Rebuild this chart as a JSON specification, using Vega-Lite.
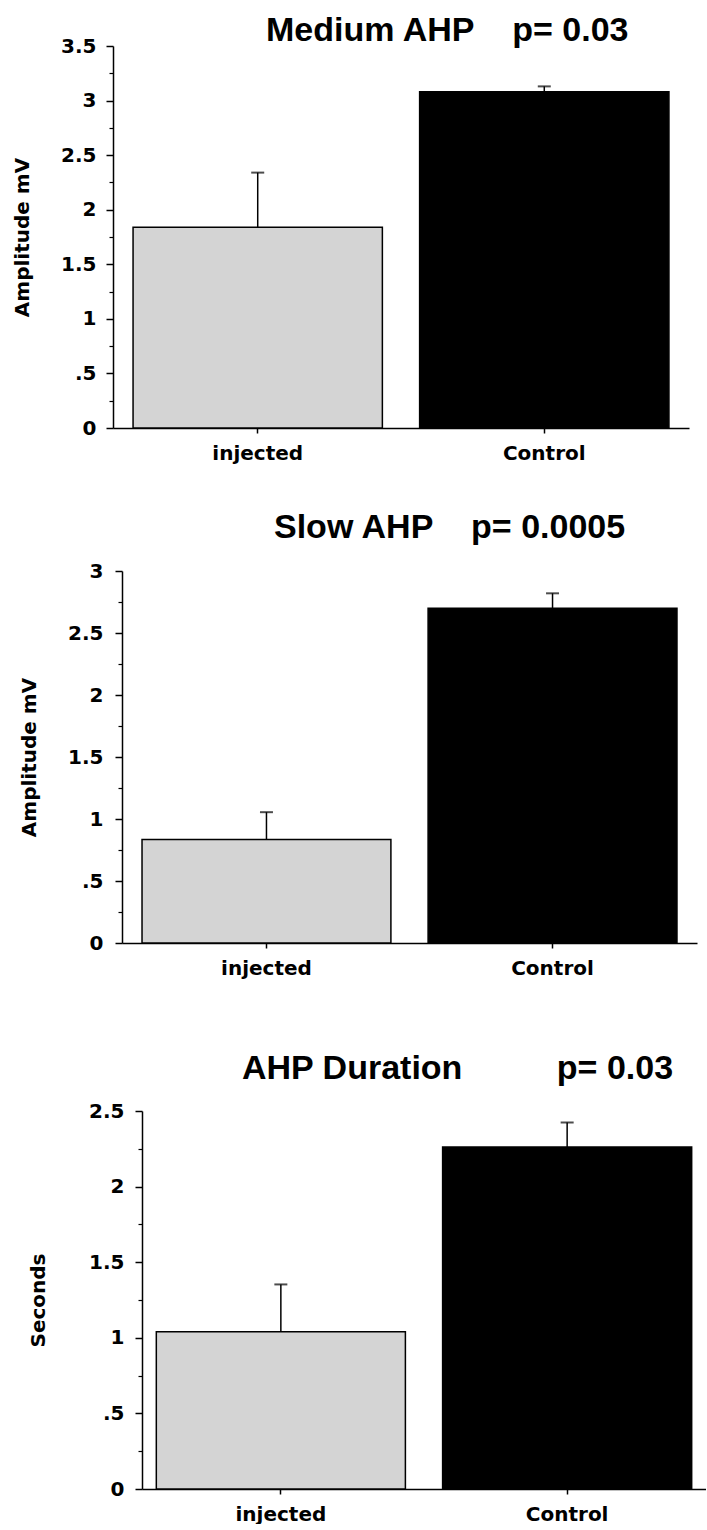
{
  "$schema": "https://vega.github.io/schema/vega-lite/v6.json",
  "padding": {"left": 0, "top": 14, "right": 0, "bottom": 0},
  "background": "white",
  "spacing": 74,
  "config": {
    "view": {"stroke": null},
    "axis": {
      "domainColor": "black", "domainWidth": 1.5, "tickColor": "black", "tickWidth": 1.5,
      "labelFont": "DejaVu Sans", "labelFontWeight": "bold", "labelFontSize": 20, "labelColor": "black",
      "titleFont": "DejaVu Sans", "titleFontWeight": "bold", "titleFontSize": 20, "titleColor": "black",
      "grid": false
    },
    "title": {"font": "Liberation Sans", "fontSize": 34, "fontWeight": "bold", "color": "black", "anchor": "start", "frame": "group", "baseline": "alphabetic"}
  },
  "datasets": {
    "medium": [
      {"group": "injected", "mean": 1.84, "upper": 2.34},
      {"group": "Control", "mean": 3.08, "upper": 3.13}
    ],
    "slow": [
      {"group": "injected", "mean": 0.835, "upper": 1.055},
      {"group": "Control", "mean": 2.7, "upper": 2.82}
    ],
    "duration": [
      {"group": "injected", "mean": 1.04, "upper": 1.353},
      {"group": "Control", "mean": 2.262, "upper": 2.424}
    ]
  },
  "vconcat": [
    {
      "spacing": 48,
      "vconcat": [
        {
          "spacing": 0,
          "hconcat": [
            {"width": 12, "height": 382, "data": {"values": [{"a": 0}]}, "mark": {"type": "point", "opacity": 0}, "encoding": {}},
            {
              "width": 576, "height": 382,
              "title": {"text": "Medium AHP\u00a0\u00a0\u00a0\u00a0p= 0.03", "dx": 153, "offset": -12},
              "data": {"name": "medium"},
              "encoding": {
                "x": {"field": "group", "type": "nominal", "sort": ["injected", "Control"],
                  "scale": {"paddingInner": 0.13, "paddingOuter": 0.07},
                  "axis": {"title": null, "labelAngle": 0, "tickSize": 5, "labelPadding": 10}}
              },
              "layer": [
                {
                  "mark": {"type": "bar", "stroke": "black", "strokeWidth": 1.5},
                  "encoding": {
                    "y": {"field": "mean", "type": "quantitative", "scale": {"domain": [0, 3.5], "nice": false},
                      "axis": {"title": "Amplitude mV", "values": [0, 0.5, 1, 1.5, 2, 2.5, 3, 3.5], "format": "~g",
                        "labelExpr": "datum.value == 0.5 ? '.5' : datum.label", "tickSize": 7, "labelPadding": 10, "titlePadding": 28}},
                    "fill": {"field": "group", "type": "nominal", "scale": {"domain": ["injected", "Control"], "range": ["#d4d4d4", "#000000"]}, "legend": null}
                  }
                },
                {
                  "mark": {"type": "rule", "strokeWidth": 1.5, "color": "black"},
                  "encoding": {"y": {"field": "mean", "type": "quantitative", "axis": null}, "y2": {"field": "upper"}}
                },
                {
                  "mark": {"type": "tick", "thickness": 2, "size": 13, "color": "black"},
                  "encoding": {"y": {"field": "upper", "type": "quantitative",
                    "axis": {"orient": "left", "title": null, "labels": false, "domain": false, "tickSize": 4, "tickWidth": 1.2,
                      "values": [0.25, 0.75, 1.25, 1.75, 2.25, 2.75, 3.25]}}}
                }
              ],
              "resolve": {"axis": {"y": "independent"}}
            }
          ]
        },
        {
          "spacing": 0,
          "hconcat": [
            {"width": 19, "height": 372, "data": {"values": [{"a": 0}]}, "mark": {"type": "point", "opacity": 0}, "encoding": {}},
            {
              "width": 575, "height": 372,
              "title": {"text": "Slow AHP\u00a0\u00a0\u00a0\u00a0p= 0.0005", "dx": 152, "offset": 16},
              "data": {"name": "slow"},
              "encoding": {
                "x": {"field": "group", "type": "nominal", "sort": ["injected", "Control"],
                  "scale": {"paddingInner": 0.13, "paddingOuter": 0.07},
                  "axis": {"title": null, "labelAngle": 0, "tickSize": 5, "labelPadding": 10}}
              },
              "layer": [
                {
                  "mark": {"type": "bar", "stroke": "black", "strokeWidth": 1.5},
                  "encoding": {
                    "y": {"field": "mean", "type": "quantitative", "scale": {"domain": [0, 3], "nice": false},
                      "axis": {"title": "Amplitude mV", "values": [0, 0.5, 1, 1.5, 2, 2.5, 3], "format": "~g",
                        "labelExpr": "datum.value == 0.5 ? '.5' : datum.label", "tickSize": 7, "labelPadding": 12, "titlePadding": 28}},
                    "fill": {"field": "group", "type": "nominal", "scale": {"domain": ["injected", "Control"], "range": ["#d4d4d4", "#000000"]}, "legend": null}
                  }
                },
                {
                  "mark": {"type": "rule", "strokeWidth": 1.5, "color": "black"},
                  "encoding": {"y": {"field": "mean", "type": "quantitative", "axis": null}, "y2": {"field": "upper"}}
                },
                {
                  "mark": {"type": "tick", "thickness": 2, "size": 13, "color": "black"},
                  "encoding": {"y": {"field": "upper", "type": "quantitative",
                    "axis": {"orient": "left", "title": null, "labels": false, "domain": false, "tickSize": 4, "tickWidth": 1.2,
                      "values": [0.25, 0.75, 1.25, 1.75, 2.25, 2.75]}}}
                }
              ],
              "resolve": {"axis": {"y": "independent"}}
            }
          ]
        }
      ]
    },
    {
      "spacing": 0,
      "hconcat": [
        {"width": 28, "height": 378, "data": {"values": [{"a": 0}]}, "mark": {"type": "point", "opacity": 0}, "encoding": {}},
        {
          "width": 564, "height": 378,
          "title": {"text": "AHP Duration\u00a0\u00a0\u00a0\u00a0\u00a0\u00a0\u00a0\u00a0\u00a0\u00a0p= 0.03", "dx": 100, "offset": 15},
          "data": {"name": "duration"},
          "encoding": {
            "x": {"field": "group", "type": "nominal", "sort": ["injected", "Control"],
              "scale": {"paddingInner": 0.13, "paddingOuter": 0.05},
              "axis": {"title": null, "labelAngle": 0, "tickSize": 5, "labelPadding": 10}}
          },
          "layer": [
            {
              "mark": {"type": "bar", "stroke": "black", "strokeWidth": 1.5},
              "encoding": {
                "y": {"field": "mean", "type": "quantitative", "scale": {"domain": [0, 2.5], "nice": false},
                  "axis": {"title": "Seconds", "values": [0, 0.5, 1, 1.5, 2, 2.5], "format": "~g",
                    "labelExpr": "datum.value == 0.5 ? '.5' : datum.label", "tickSize": 7, "labelPadding": 11, "titlePadding": 40}},
                "fill": {"field": "group", "type": "nominal", "scale": {"domain": ["injected", "Control"], "range": ["#d4d4d4", "#000000"]}, "legend": null}
              }
            },
            {
              "mark": {"type": "rule", "strokeWidth": 1.5, "color": "black"},
              "encoding": {"y": {"field": "mean", "type": "quantitative", "axis": null}, "y2": {"field": "upper"}}
            },
            {
              "mark": {"type": "tick", "thickness": 2, "size": 13, "color": "black"},
              "encoding": {"y": {"field": "upper", "type": "quantitative",
                "axis": {"orient": "left", "title": null, "labels": false, "domain": false, "tickSize": 4, "tickWidth": 1.2,
                  "values": [0.25, 0.75, 1.25, 1.75, 2.25]}}}
            }
          ],
          "resolve": {"axis": {"y": "independent"}}
        }
      ]
    }
  ]
}
